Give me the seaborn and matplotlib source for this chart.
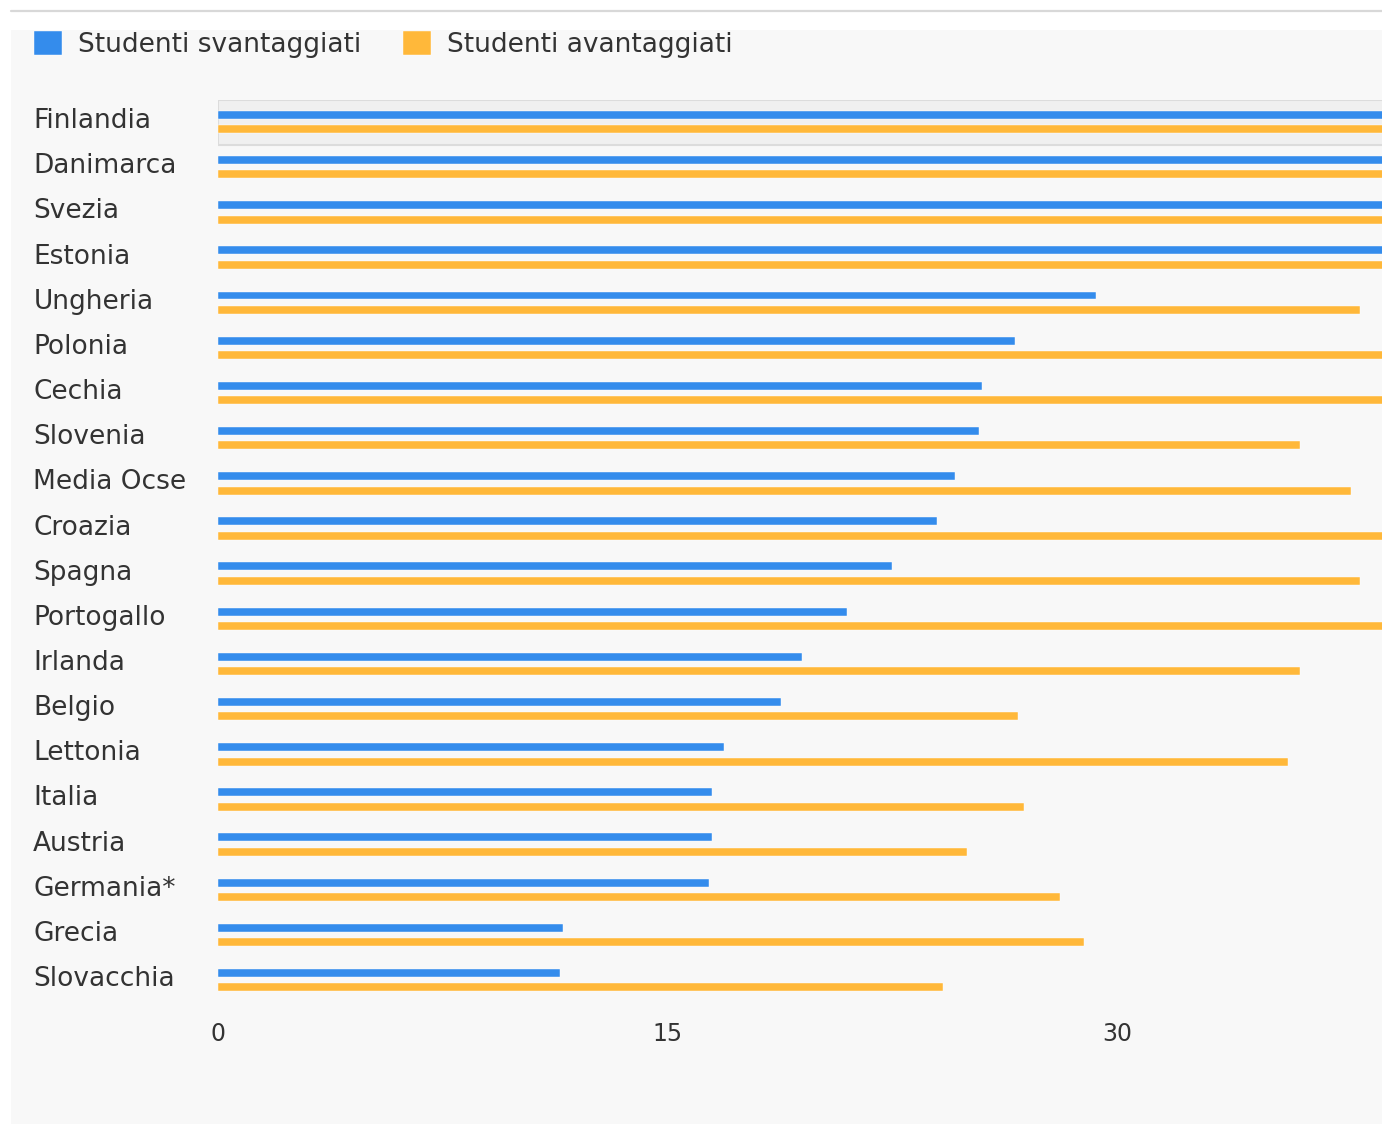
import matplotlib
matplotlib.use("Agg")
import matplotlib.pyplot as plt
import matplotlib.transforms as mtransforms
import seaborn as sns
import pandas as pd
from matplotlib.patches import Rectangle
from matplotlib.lines import Line2D

# ---- data ----
countries = ["Finlandia", "Danimarca", "Svezia", "Estonia", "Ungheria", "Polonia",
             "Cechia", "Slovenia", "Media Ocse", "Croazia", "Spagna", "Portogallo",
             "Irlanda", "Belgio", "Lettonia", "Italia", "Austria", "Germania*",
             "Grecia", "Slovacchia"]
svantaggiati = [45.0, 44.0, 42.0, 41.0, 29.3, 26.6, 25.5, 25.4, 24.6, 24.0, 22.5, 21.0,
                19.5, 18.8, 16.9, 16.5, 16.5, 16.4, 11.5, 11.4]
avantaggiati = [60.0, 58.0, 57.0, 55.0, 38.1, 40.0, 40.0, 36.1, 37.8, 40.0, 38.1, 40.0,
                36.1, 26.7, 35.7, 26.9, 25.0, 28.1, 28.9, 24.2]
series_names = ["Studenti svantaggiati", "Studenti avantaggiati"]
series_colors = ["#348CEC", "#FFB83A"]
xticks = [0, 15, 30]
x_max = 38.84

n = len(countries)
df = pd.DataFrame({
    "Paese": countries * 2,
    "Valore": svantaggiati + avantaggiati,
    "Gruppo": [series_names[0]] * n + [series_names[1]] * n,
})

sns.set_theme(style="white")
plt.rcParams["font.family"] = ["DejaVu Sans"]

W, H = 1382, 1124
fig = plt.figure(figsize=(W / 100, H / 100), dpi=100, facecolor="white")
fig.patches.append(Rectangle((11 / W, 0), 1, 1 - 30 / H, transform=fig.transFigure,
                             facecolor="#f8f8f8", edgecolor="none", zorder=-10))
fig.add_artist(Line2D([11 / W, 1], [1 - 11 / H] * 2, color="#d8d8d8", lw=1.6,
                      transform=fig.transFigure))

top_px, bot_px, left_px = 99.5, 1002.7, 218
ax = fig.add_axes([left_px / W, 1 - bot_px / H, 1 - left_px / W, (bot_px - top_px) / H])
ax.set_facecolor("none")

sns.barplot(data=df, y="Paese", x="Valore", hue="Gruppo", palette=series_colors,
            orient="h", width=0.64, gap=0.45, dodge=True, ax=ax,
            edgecolor="#ffffff", linewidth=0.3, saturation=1, errorbar=None)

ax.set_xlim(0, x_max)
ax.set_ylim(n - 0.5, -0.5)
ax.add_patch(Rectangle((0, -0.5), x_max * 2, 1, facecolor="#f0f0f0",
                       edgecolor="#dcdcdc", lw=1.5, zorder=0.5))

for s in ax.spines.values():
    s.set_visible(False)
ax.set_xlabel("")
ax.set_ylabel("")
ax.set_xticks(xticks)
ax.set_xticklabels([str(t) for t in xticks])
ax.tick_params(axis="x", length=0, pad=14, labelsize=17, labelcolor="#333333")
ax.tick_params(axis="y", length=0, pad=133, labelsize=19, labelcolor="#333333")
shift_up = mtransforms.ScaledTranslation(0, 4 / 100, fig.dpi_scale_trans)
for tick in ax.yaxis.get_major_ticks():
    tick.label1.set_horizontalalignment("left")
    tick.label1.set_transform(tick.label1.get_transform() + shift_up)
ax.grid(False)

handles, labels = ax.get_legend_handles_labels()
if ax.legend_ is not None:
    ax.legend_.remove()
fig.legend(handles, labels, loc="upper left", bbox_to_anchor=(34 / W, 1 - 31 / H),
           ncol=2, frameon=False, fontsize=19, handlelength=1.05, handleheight=1.05,
           handletextpad=0.6, columnspacing=1.6, borderpad=0, borderaxespad=0,
           labelcolor="#333333")

fig.savefig("out.png", dpi=100, facecolor="white")
